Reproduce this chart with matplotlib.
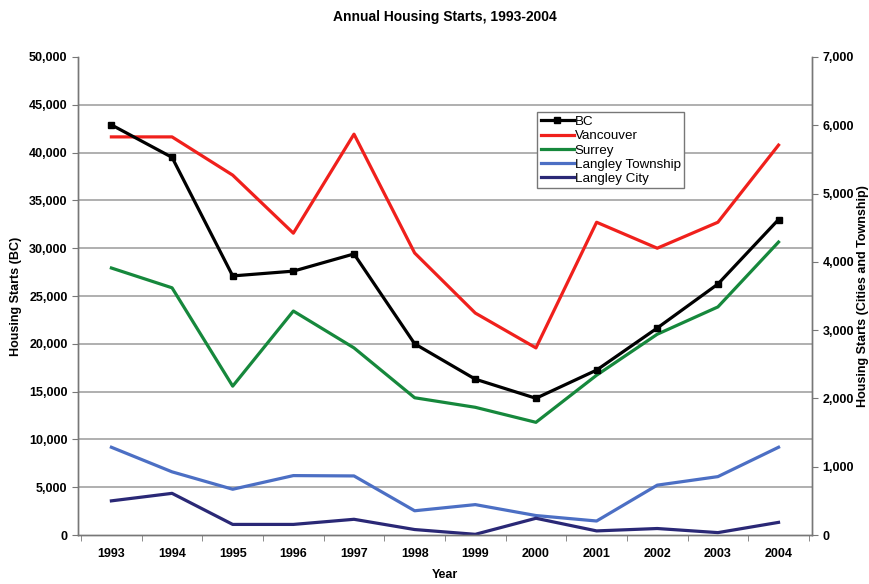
import matplotlib
matplotlib.use('Agg')
import matplotlib.pyplot as plt
from matplotlib.ticker import FuncFormatter, MultipleLocator, FixedLocator

years = [1993, 1994, 1995, 1996, 1997, 1998, 1999, 2000, 2001, 2002, 2003, 2004]

# BC on the left axis
bc = [42900, 39500, 27100, 27600, 29400, 20000, 16300, 14300, 17250, 21650, 26250, 33000]

# cities / township on the right axis
vancouver = [5830, 5830, 5270, 4420, 5870, 4130, 3250, 2740, 4580, 4200, 4580, 5710]
surrey = [3910, 3620, 2180, 3280, 2740, 2010, 1870, 1650, 2340, 2940, 3340, 4290]
langley_twp = [1285, 925, 670, 870, 865, 355, 445, 285, 205, 730, 855, 1285]
langley_city = [500, 610, 155, 155, 230, 80, 10, 245, 60, 95, 35, 185]

plt.rcParams['font.family'] = ['Liberation Sans', 'DejaVu Sans']

fig = plt.figure(figsize=(8.69, 5.84), dpi=100)
ax = fig.add_axes([0.0898, 0.0839, 0.8445, 0.8185])
ax2 = ax.twinx()
# BC line sits on top of the city lines
ax.set_zorder(ax2.get_zorder() + 1)
ax.patch.set_visible(False)

x = range(len(years))

l_van, = ax2.plot(x, vancouver, color='#f0201c', lw=2.3, label='Vancouver')
l_sur, = ax2.plot(x, surrey, color='#16883c', lw=2.3, label='Surrey')
l_twp, = ax2.plot(x, langley_twp, color='#4c6fc4', lw=2.3, label='Langley Township')
l_city, = ax2.plot(x, langley_city, color='#2a2876', lw=2.3, label='Langley City')
l_bc, = ax.plot(x, bc, color='black', lw=2.3, marker='s', ms=4.5, label='BC')

ax.set_xlim(-0.55, len(years) - 0.45)
ax.set_ylim(0, 50000)
ax2.set_ylim(0, 7000)

fmt = FuncFormatter(lambda v, p: '{:,.0f}'.format(v))
ax.yaxis.set_major_locator(MultipleLocator(5000))
ax.yaxis.set_major_formatter(fmt)
ax2.yaxis.set_major_locator(MultipleLocator(1000))
ax2.yaxis.set_major_formatter(fmt)

# gridlines at the left-axis steps, drawn from the back axes
ax2.yaxis.set_minor_locator(MultipleLocator(700))
ax2.grid(True, which='minor', axis='y', color='#9a9a9a', lw=1.1)
ax2.tick_params(axis='y', which='minor', length=0)

ax.set_xticks(list(x))
ax.set_xticklabels([str(y) for y in years])
ax.xaxis.set_minor_locator(FixedLocator([i - 0.5 for i in range(len(years) + 1)]))
ax.tick_params(axis='x', which='major', length=0, pad=9)
ax.tick_params(axis='x', which='minor', length=4, direction='out', color='#777777')
ax.tick_params(axis='y', length=4, direction='out', color='#777777')
ax2.tick_params(axis='y', length=4, direction='out', color='#777777')

for a in (ax, ax2):
    a.spines['top'].set_visible(False)
    for s in ('left', 'right', 'bottom'):
        a.spines[s].set_color('#777777')
        a.spines[s].set_linewidth(1.0)
    for lab in a.get_xticklabels() + a.get_yticklabels():
        lab.set_fontweight('bold')
        lab.set_fontsize(9)

ax.set_xlabel('Year', fontsize=9, fontweight='bold', labelpad=7)
ax.set_ylabel('Housing Starts (BC)', fontsize=9, fontweight='bold', labelpad=5)
ax2.set_ylabel('Housing Starts (Cities and Township)', fontsize=9, fontweight='bold',
               rotation=90, labelpad=2)
ax.set_title('Annual Housing Starts, 1993-2004', fontsize=10, fontweight='bold', pad=26)

leg = ax.legend([l_bc, l_van, l_sur, l_twp, l_city],
                ['BC', 'Vancouver', 'Surrey', 'Langley Township', 'Langley City'],
                loc='upper left', bbox_to_anchor=(0.626, 0.884), fontsize=9.6,
                handlelength=2.5, handletextpad=0.05, labelspacing=0.14,
                borderpad=0.25, borderaxespad=0, fancybox=False, framealpha=1)
leg.get_frame().set_edgecolor('#777777')
leg.get_frame().set_linewidth(1.0)

fig.savefig('out.png', dpi=100)
